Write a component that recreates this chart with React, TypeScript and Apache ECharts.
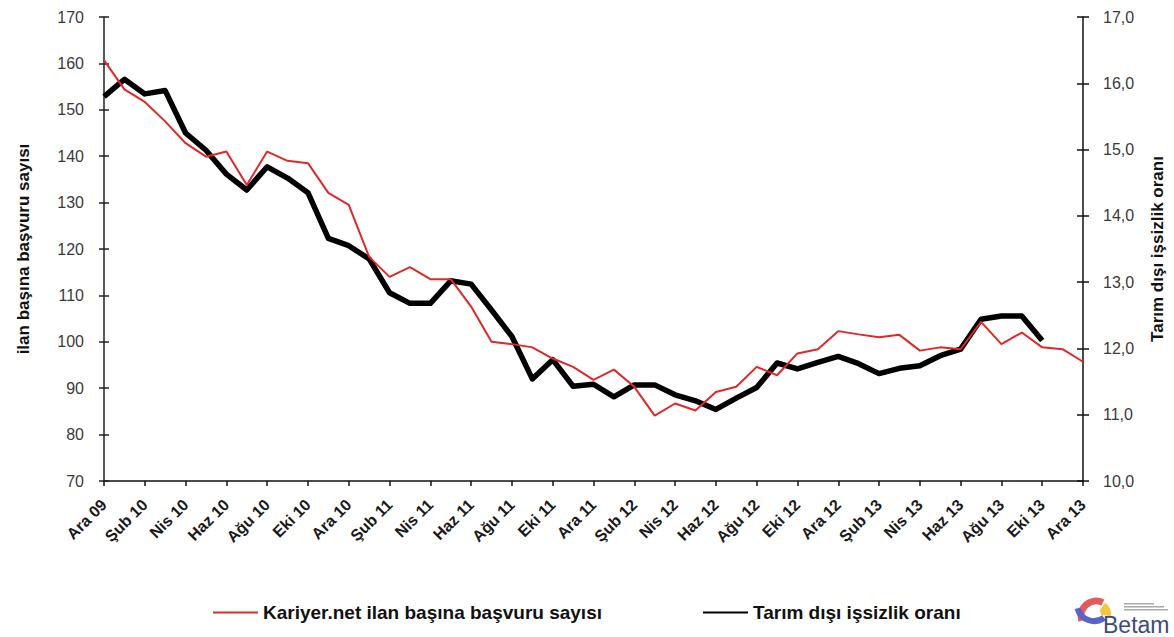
import React, { useEffect, useRef } from "react";
import * as echarts from "echarts";

// Dec 2009 .. Dec 2013
const categories: string[] = [
  "Ara 09",
  "Oca 10", "Şub 10", "Mar 10", "Nis 10", "May 10", "Haz 10", "Tem 10", "Ağu 10", "Eyl 10", "Eki 10", "Kas 10", "Ara 10",
  "Oca 11", "Şub 11", "Mar 11", "Nis 11", "May 11", "Haz 11", "Tem 11", "Ağu 11", "Eyl 11", "Eki 11", "Kas 11", "Ara 11",
  "Oca 12", "Şub 12", "Mar 12", "Nis 12", "May 12", "Haz 12", "Tem 12", "Ağu 12", "Eyl 12", "Eki 12", "Kas 12", "Ara 12",
  "Oca 13", "Şub 13", "Mar 13", "Nis 13", "May 13", "Haz 13", "Tem 13", "Ağu 13", "Eyl 13", "Eki 13", "Kas 13", "Ara 13",
];

const applicationsPerPosting: number[] = [
  160.7, 154.4, 151.7, 147.5, 142.8, 139.9, 141.0, 133.8, 141.0, 139.0, 138.5, 132.1, 129.5,
  118.3, 114.0, 116.1, 113.5, 113.5, 107.6, 100.0, 99.5, 98.8, 96.4, 94.6, 91.8,
  94.0, 90.3, 84.1, 86.7, 85.2, 89.2, 90.3, 94.6, 92.8, 97.5, 98.4, 102.3,
  101.6, 101.0, 101.5, 98.1, 98.8, 98.4, 104.3, 99.5, 102.0, 98.8, 98.4, 95.7,
];

const nonFarmUnemployment: (number | null)[] = [
  15.80, 16.06, 15.84, 15.89, 15.25, 14.99, 14.63, 14.39, 14.74, 14.57, 14.35, 13.66, 13.55,
  13.35, 12.84, 12.68, 12.68, 13.02, 12.97, 12.58, 12.18, 11.54, 11.83, 11.43, 11.46,
  11.27, 11.45, 11.45, 11.30, 11.21, 11.08, 11.25, 11.41, 11.78, 11.69, 11.79, 11.88,
  11.77, 11.62, 11.70, 11.74, 11.89, 11.99, 12.44, 12.49, 12.49, 12.12, null, null,
];

const leftTicks = { min: 70, max: 170, interval: 10 };
const rightTicks = { min: 10, max: 17, interval: 1 };

const redName = "Kariyer.net ilan başına başvuru sayısı";
const blackName = "Tarım dışı işsizlik oranı";
const leftTitle = "ilan başına başvuru sayısı";
const rightTitle = "Tarım dışı işsizlik oranı";
const logoText = "Betam";

const FONT = "Arial, 'Liberation Sans', sans-serif";

export default function App() {
  const ref = useRef<HTMLDivElement>(null);

  useEffect(() => {
    if (!ref.current) return;
    const chart = echarts.init(ref.current, undefined, { renderer: "svg" });
    const axisLabelStyle = { fontFamily: FONT, fontSize: 16, color: "#3a3a3a" };
    chart.setOption({
      animation: false,
      backgroundColor: "#ffffff",
      textStyle: { fontFamily: FONT },
      grid: { left: 104, right: 89, top: 17, bottom: 156, containLabel: false },
      legend: [
        {
          data: [redName],
          left: 208,
          top: 598,
          icon: "rect",
          itemWidth: 45,
          itemHeight: 2,
          textStyle: { fontFamily: FONT, fontSize: 19, fontWeight: "bold", color: "#111" },
        },
        {
          data: [blackName],
          left: 698,
          top: 598,
          icon: "rect",
          itemWidth: 45,
          itemHeight: 2,
          textStyle: { fontFamily: FONT, fontSize: 19, fontWeight: "bold", color: "#111" },
        },
      ],
      xAxis: {
        type: "category",
        data: categories,
        boundaryGap: false,
        axisLine: { lineStyle: { color: "#111", width: 1.5 } },
        axisTick: { show: true, interval: 1, length: 5, lineStyle: { color: "#111", width: 1.5 } },
        axisLabel: {
          interval: 1,
          rotate: 45,
          margin: 21,
          fontFamily: FONT,
          fontSize: 16,
          fontWeight: "bold",
          color: "#1a1a1a",
        },
        splitLine: { show: false },
      },
      yAxis: [
        {
          type: "value",
          position: "left",
          ...leftTicks,
          name: leftTitle,
          nameLocation: "middle",
          nameRotate: 90,
          nameGap: 72,
          nameTextStyle: { fontFamily: FONT, fontSize: 17, fontWeight: "bold", color: "#111" },
          axisLine: { show: true, lineStyle: { color: "#222", width: 1.5 } },
          axisTick: { show: true, length: 5, lineStyle: { color: "#222", width: 1.5 } },
          axisLabel: { ...axisLabelStyle, margin: 20 },
          splitLine: { show: false },
        },
        {
          type: "value",
          position: "right",
          ...rightTicks,
          name: rightTitle,
          nameLocation: "middle",
          nameRotate: 90,
          nameGap: 66,
          nameTextStyle: { fontFamily: FONT, fontSize: 17, fontWeight: "bold", color: "#111" },
          axisLine: { show: true, lineStyle: { color: "#111", width: 1.5 } },
          axisTick: { show: true, length: 6, lineStyle: { color: "#111", width: 1.5 } },
          axisLabel: {
            ...axisLabelStyle,
            margin: 20,
            formatter: (v: number) => v.toFixed(1).replace(".", ","),
          },
          splitLine: { show: false },
        },
        {
          type: "value",
          position: "left",
          ...leftTicks,
          axisLine: { show: false },
          axisTick: { show: true, inside: true, length: 5, lineStyle: { color: "#222", width: 1.5 } },
          axisLabel: { show: false },
          splitLine: { show: false },
        },
        {
          type: "value",
          position: "right",
          ...rightTicks,
          axisLine: { show: false },
          axisTick: { show: true, inside: true, length: 6, lineStyle: { color: "#111", width: 1.5 } },
          axisLabel: { show: false },
          splitLine: { show: false },
        },
      ],
      series: [
        {
          name: redName,
          type: "line",
          yAxisIndex: 0,
          data: applicationsPerPosting,
          symbol: "none",
          lineStyle: { color: "#e02828", width: 2 },
          itemStyle: { color: "#e02828" },
          z: 3,
        },
        {
          name: blackName,
          type: "line",
          yAxisIndex: 1,
          data: nonFarmUnemployment,
          symbol: "none",
          lineStyle: { color: "#000", width: 5.5, join: "round" },
          itemStyle: { color: "#000" },
          z: 2,
        },
      ],
      graphic: [
        {
          type: "arc",
          shape: { cx: 1096, cy: 616, r: 15, startAngle: Math.PI * 0.9, endAngle: Math.PI * 1.65 },
          style: { stroke: "#e25a5a", lineWidth: 7, fill: "none" },
        },
        {
          type: "sector",
          shape: { cx: 1097, cy: 614, r0: 4, r: 14, startAngle: Math.PI * 1.7, endAngle: Math.PI * 2.05 },
          style: { fill: "#f2c542" },
        },
        {
          type: "arc",
          shape: { cx: 1094, cy: 604, r: 17, startAngle: Math.PI * 0.3, endAngle: Math.PI * 0.92 },
          style: { stroke: "#5b63c8", lineWidth: 6, fill: "none" },
        },
        { type: "rect", shape: { x: 1124, y: 603, width: 30, height: 1.5 }, style: { fill: "#aaa" } },
        { type: "rect", shape: { x: 1124, y: 606, width: 40, height: 1.5 }, style: { fill: "#aaa" } },
        { type: "rect", shape: { x: 1124, y: 609, width: 44, height: 1.5 }, style: { fill: "#aaa" } },
        {
          type: "text",
          x: 1103,
          y: 613,
          style: { text: logoText, fontFamily: FONT, fontSize: 23, fill: "#3d4b7c" },
        },
      ],
    });
    return () => chart.dispose();
  }, []);

  return (
    <div
      ref={ref}
      style={{ position: "fixed", left: 0, top: 0, width: 1174, height: 637, background: "#fff" }}
    />
  );
}
